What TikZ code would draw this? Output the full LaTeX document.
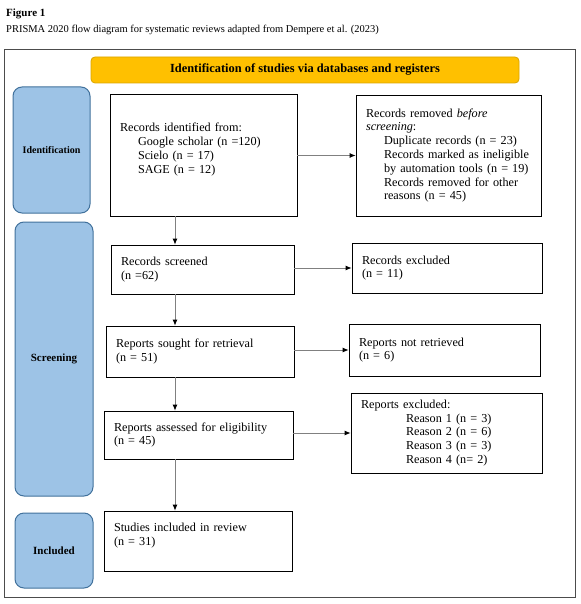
\documentclass[tikz,border=0pt]{standalone}
\usepackage{fontspec}
\setmainfont{Liberation Serif}
\usepackage{tikz}
\usetikzlibrary{arrows.meta,positioning,calc}

\definecolor{stageblue}{HTML}{9DC3E6}
\definecolor{stageedge}{HTML}{41719C}
\definecolor{bannergold}{HTML}{FFC000}
\definecolor{banneredge}{HTML}{D9A400}
\definecolor{linkgray}{HTML}{808080}

\begin{document}
\begin{tikzpicture}[x=1pt,y=-1pt,
    box/.style={draw=black,line width=0.8pt,fill=white,align=left,inner xsep=10pt,inner ysep=2pt,
        font=\fontsize{12.2}{13.8}\selectfont},
    stage/.style={draw=stageedge,line width=1pt,fill=stageblue,rounded corners=9pt,
        minimum width=78pt,font=\bfseries\fontsize{11}{13}\selectfont},
    link/.style={draw=linkgray,line width=0.8pt,-{Latex[length=6pt,width=5pt,color=black]}}]
    \useasboundingbox (0,0) rectangle (580,604);

    \node[anchor=west,inner sep=0pt,font=\bfseries\fontsize{11}{13}\selectfont] (fignum) at (6,14) {Figure 1};
    \node[anchor=west,inner sep=0pt,font=\fontsize{10.5}{13}\selectfont] (figcap) at (6,30) {PRISMA 2020 flow diagram for systematic reviews adapted from Dempere et al. (2023)};

    \draw[draw=black!70,line width=0.8pt] (4.5,49) rectangle (575,597);

    \node[draw=banneredge,fill=bannergold,line width=0.8pt,rounded corners=4pt,minimum width=428pt,minimum height=26pt,
        font=\bfseries\fontsize{12.4}{14}\selectfont] (banner) at (305,70) {Identification of studies via databases and registers};

    \node[stage,minimum width=77pt,minimum height=126pt,font=\bfseries\fontsize{10}{12}\selectfont] (idstage) at (51.5,150) {Identification};
    \node[stage,minimum height=274pt] (scrstage) at (54,359) {Screening};
    \node[stage,minimum height=75pt] (incstage) at (54,550.5) {Included};

    \node[box,text width=167pt,minimum height=122pt] (ident) at (203.5,155) {Records identified from:\\
        \hspace*{18pt}Google scholar (n =120)\\
        \hspace*{18pt}Scielo (n = 17)\\
        \hspace*{18pt}SAGE (n = 12)\\
        \mbox{}};
    \node[box,text width=165pt,minimum height=121pt] (removed) at (448.5,155.5) {Records removed \textit{before}\\
        \textit{screening}:\\
        \hspace*{18pt}Duplicate records (n = 23)\\
        \hspace*{18pt}Records marked as ineligible\\
        \hspace*{18pt}by automation tools (n = 19)\\
        \hspace*{18pt}Records removed for other\\
        \hspace*{18pt}reasons (n = 45)};

    \node[box,text width=163pt,minimum height=49pt] (screened) at (202.5,269.5) {Records screened\\(n =62)};
    \node[box,text width=170pt,minimum height=50pt] (excluded) at (447,268) {Records excluded\\(n = 11)};

    \node[box,text width=168pt,minimum height=51pt] (sought) at (200,351.5) {Reports sought for retrieval\\(n = 51)};
    \node[box,text width=171pt,minimum height=52pt] (notretr) at (444.5,350) {Reports not retrieved\\(n = 6)};

    \node[box,text width=169pt,minimum height=48pt] (assessed) at (198.5,435) {Reports assessed for eligibility\\(n = 45)};
    \node[box,text width=171pt,minimum height=80pt] (repexcl) at (446.5,433) {Reports excluded:\\
        \hspace*{45pt}Reason 1 (n = 3)\\
        \hspace*{45pt}Reason 2 (n = 6)\\
        \hspace*{45pt}Reason 3 (n = 3)\\
        \hspace*{45pt}Reason 4 (n= 2)};

    \node[box,text width=168pt,minimum height=60pt] (included) at (198,541) {Studies included in review\\(n = 31)\\\mbox{}};

    \coordinate (spine) at (175,0);
    \draw[link] (ident.south -| spine) -- (screened.north -| spine);
    \draw[link] (screened.south -| spine) -- (sought.north -| spine);
    \draw[link] (sought.south -| spine) -- (assessed.north -| spine);
    \draw[link] (assessed.south -| spine) -- (included.north -| spine);

    \draw[link] (ident.east |- removed.west) -- (removed.west);
    \draw[link] (screened.east |- excluded.west) -- (excluded.west);
    \draw[link] (sought.east |- notretr.west) -- (notretr.west);
    \draw[link] (assessed.east |- repexcl.west) -- (repexcl.west);
\end{tikzpicture}
\end{document}
